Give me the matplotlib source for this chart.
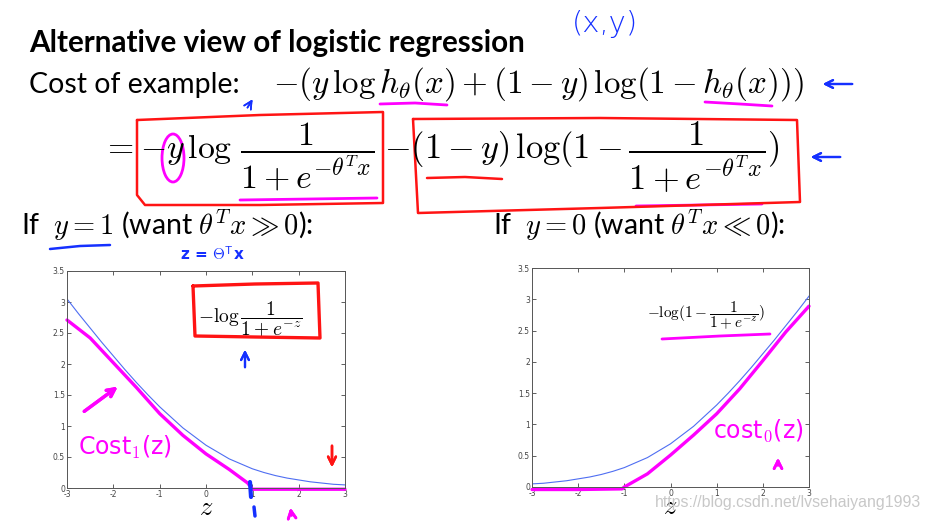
import matplotlib.pyplot as plt
from matplotlib.lines import Line2D
from matplotlib.patches import Ellipse

plt.rcParams['mathtext.fontset'] = 'cm'

W, H = 930, 521

# blue curves (z from -3 to 3, step 0.25)
z = [-3, -2.75, -2.5, -2.25, -2, -1.75, -1.5, -1.25, -1, -0.75, -0.5, -0.25,
     0, 0.25, 0.5, 0.75, 1, 1.25, 1.5, 1.75, 2, 2.25, 2.5, 2.75, 3]
cost1_curve = [3.05, 2.81, 2.58, 2.35, 2.13, 1.91, 1.70, 1.50, 1.31, 1.14, 0.97, 0.83,
               0.69, 0.58, 0.47, 0.39, 0.31, 0.25, 0.20, 0.16, 0.13, 0.10, 0.08, 0.06, 0.05]
cost0_curve = cost1_curve[::-1]

# hand drawn magenta approximations
hand1_z = [-3, -2.5, -2, -1.5, -1, -0.5, 0, 0.5, 0.9, 1.0, 2.0, 3.0]
hand1 = [2.71, 2.42, 2.02, 1.62, 1.20, 0.85, 0.55, 0.30, 0.08, -0.02, -0.02, -0.02]
hand0_z = [-3, -2, -1.05, -1, -0.5, 0, 0.5, 1, 1.5, 2, 2.5, 3]
hand0 = [-0.04, -0.04, -0.03, 0.0, 0.21, 0.51, 0.83, 1.17, 1.57, 2.02, 2.48, 2.89]

xticks = [-3, -2, -1, 0, 1, 2, 3]
xtick_labels = ['-3', '-2', '-1', '0', '1', '2', '3']
yticks = [0, 0.5, 1, 1.5, 2, 2.5, 3, 3.5]
ytick_labels = ['0', '0.5', '1', '1.5', '2', '2.5', '3', '3.5']

BLUE_LINE = '#4f6ef2'
MAGENTA = '#ff00ff'
PEN_BLUE = '#1530ff'
PEN_RED = '#ff1414'

fig = plt.figure(figsize=(9.3, 5.21), dpi=100)


def label(x, y, s, **kw):
    fig.text(x / W, 1 - y / H, s, **kw)


def stroke(xs, ys, color, lw=2.0):
    fig.add_artist(Line2D([x / W for x in xs], [1 - y / H for y in ys],
                          color=color, lw=lw, solid_capstyle='round',
                          solid_joinstyle='round', transform=fig.transFigure))


def arrow(x0, y0, x1, y1, color, lw=1.6):
    fig.add_artist(plt.annotate('', xy=(x1 / W, 1 - y1 / H), xytext=(x0 / W, 1 - y0 / H),
                                xycoords='figure fraction', textcoords='figure fraction',
                                arrowprops=dict(arrowstyle='->', color=color, lw=lw,
                                                mutation_scale=14)))


def style(ax):
    ax.set_xlim(-3, 3)
    ax.set_ylim(0, 3.5)
    ax.set_xticks(xticks)
    ax.set_xticklabels(xtick_labels)
    ax.set_yticks(yticks)
    ax.set_yticklabels(ytick_labels)
    ax.tick_params(direction='in', length=3, width=0.6, top=True, right=True,
                   labelsize=5.5, colors='#444444', pad=1.5)
    for s in ax.spines.values():
        s.set_linewidth(0.7)
        s.set_color('#555555')
    ax.set_xlabel('$z$', fontsize=19, labelpad=-3)


# slide text
label(29, 52, 'Alternative view of logistic regression', family='Lato',
      weight='bold', fontsize=21.3, va='baseline')
label(29, 93, 'Cost of example:', family='Lato', fontsize=20.5, va='baseline')
label(273, 93, r'$-(y\,\log h_\theta(x) + (1-y)\,\log(1-h_\theta(x)))$',
      fontsize=23.8, va='baseline')
label(102, 157, r'$=-y\,\log\,\dfrac{1}{1+e^{-\theta^Tx}}$', fontsize=24.3, va='center')
label(384, 157, r'$-(1-y)\,\log(1-\dfrac{1}{1+e^{-\theta^Tx}})$', fontsize=24.8, va='center')
label(21, 235, r'If  $y=1$ (want $\theta^Tx\gg0$):', family='Lato', fontsize=20.5, va='baseline')
label(493, 235, r'If  $y=0$ (want $\theta^Tx\ll0$):', family='Lato', fontsize=20.5, va='baseline')

# plots
ax1 = fig.add_axes([67 / W, 1 - 488 / H, 278 / W, 217 / H])
ax1.plot(z, cost1_curve, color=BLUE_LINE, lw=0.8)
ax1.plot(hand1_z, hand1, color=MAGENTA, lw=2.4, clip_on=False, solid_capstyle='round')
style(ax1)
ax1.text(0.95, 2.73, r'$-\log\dfrac{1}{1+e^{-z}}$', fontsize=14, ha='center', va='center')

ax2 = fig.add_axes([532 / W, 1 - 487 / H, 277 / W, 219 / H])
ax2.plot(z, cost0_curve, color=BLUE_LINE, lw=0.8)
ax2.plot(hand0_z, hand0, color=MAGENTA, lw=2.4, clip_on=False, solid_capstyle='round')
style(ax2)
ax2.text(0.77, 2.73, r'$-\log(1-\dfrac{1}{1+e^{-z}})$', fontsize=11, ha='center', va='center')

# hand annotations: blue
label(572, 24, '(x,y)', color=PEN_BLUE, fontsize=21, va='center', family='DejaVu Sans',
      weight='light')
arrow(855, 84, 820, 84, PEN_BLUE)
arrow(843, 157, 808, 157, PEN_BLUE)
arrow(246, 110, 254, 97, PEN_BLUE, lw=1.2)
stroke([50, 80, 110], [249, 246, 245], PEN_BLUE, 1.8)
label(212, 255, r'z = $\Theta^\mathsf{T}$x', color=PEN_BLUE, fontsize=11, ha='center',
      va='center', weight='bold', family='DejaVu Sans')
arrow(245, 370, 245, 347, PEN_BLUE, lw=1.6)
stroke([250, 251], [482, 497], PEN_BLUE, 3)
stroke([254, 255], [507, 516], PEN_BLUE, 2.5)

# hand annotations: magenta
stroke([380, 415, 447], [104, 103, 105], MAGENTA, 2)
stroke([705, 740, 772], [102, 104, 106], MAGENTA, 2)
stroke([240, 310, 377], [200, 199, 198], MAGENTA, 2)
stroke([636, 700, 762], [206, 205, 204], MAGENTA, 2)
fig.add_artist(Ellipse((173 / W, 1 - 158 / H), 22 / W, 48 / H, fill=False,
                       ec=MAGENTA, lw=2, transform=fig.transFigure))
stroke([662, 720, 770], [339, 336, 334], MAGENTA, 2)
arrow(82, 413, 120, 385, MAGENTA, lw=2.4)
label(78, 447, r'Cost$_1$(z)', color=MAGENTA, fontsize=17, va='center', family='DejaVu Sans')
label(713, 431, r'cost$_0$(z)', color=MAGENTA, fontsize=17, va='center', family='DejaVu Sans')
arrow(778, 468, 778, 455, MAGENTA, lw=2)
arrow(292, 518, 290, 505, MAGENTA, lw=2)

# hand annotations: red
stroke([137, 260, 383, 383, 260, 145, 137, 137], [120, 115, 112, 203, 205, 205, 195, 120], PEN_RED, 1.8)
stroke([413, 600, 797, 800, 600, 418, 413], [119, 118, 120, 202, 208, 213, 119], PEN_RED, 1.8)
stroke([427, 465, 502], [178, 177, 179], PEN_RED, 1.8)
stroke([193, 255, 318, 320, 255, 195, 193], [286, 284, 283, 338, 337, 336, 286], PEN_RED, 2.4)
arrow(332, 443, 332, 470, PEN_RED, lw=1.8)

# watermark
label(655, 502, 'https://blog.csdn.net/lvsehaiyang1993', color='#c8c8c8', fontsize=11.4,
      ha='left', va='center', family='Liberation Sans')

fig.savefig('out.png', dpi=100)
